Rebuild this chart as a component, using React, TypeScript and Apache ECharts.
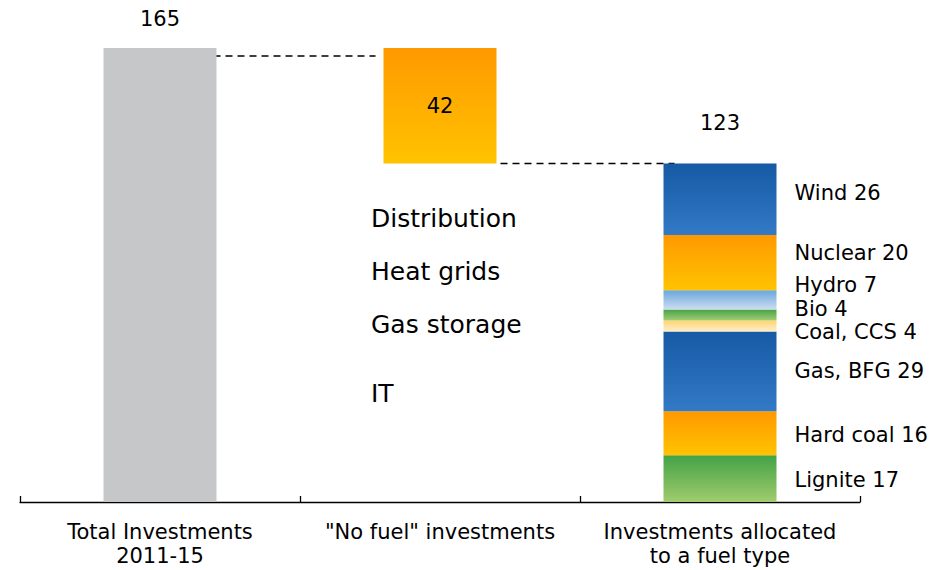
import React, { useEffect, useRef } from "react";
import * as echarts from "echarts";

const categories = ["Total Investments\n2011-15", '"No fuel" investments', "Investments allocated\nto a fuel type"];
const totalInvestments = 165;
const noFuelInvestments = 42;
const allocatedInvestments = 123;
const fuelNames = ["Lignite", "Hard coal", "Gas, BFG", "Coal, CCS", "Bio", "Hydro", "Nuclear", "Wind"];
const fuelValues = [17, 16, 29, 4, 4, 7, 20, 26];
const noFuelItems = ["Distribution", "Heat grids", "Gas storage", "IT"];

// styles (kept apart from data)
const FONT = "DejaVu Sans";
const fuelColors: [string, string][] = [
  ["#43A246", "#A0CC6E"],
  ["#FF9900", "#FFC300"],
  ["#165AA5", "#3379C5"],
  ["#FFD46E", "#FFEEC9"],
  ["#43A246", "#A3CD73"],
  ["#69A5DB", "#CCDDF1"],
  ["#FF9900", "#FFC300"],
  ["#165AA5", "#3379C5"],
];
const fuelLabelOffsets = [1, 2, 0, 6, -6, -15, -10, -6];
const noFuelTextY = [218, 271, 324, 393];

const grad = (a: string, b: string) =>
  new echarts.graphic.LinearGradient(0, 0, 0, 1, [
    { offset: 0, color: a },
    { offset: 1, color: b },
  ]);

export default function App() {
  const ref = useRef<HTMLDivElement>(null);
  useEffect(() => {
    document.body.style.margin = "0";
    if (!ref.current) return;
    const chart = echarts.init(ref.current, undefined, { renderer: "svg" });
    const BAR_W = 113;
    const series: any[] = [
      {
        name: "base",
        type: "bar",
        stack: "w",
        barWidth: BAR_W,
        silent: true,
        itemStyle: { color: "transparent" },
        data: ["-", allocatedInvestments, "-"],
      },
      {
        name: "Total",
        type: "bar",
        stack: "w",
        barWidth: BAR_W,
        itemStyle: { color: "#C6C7C9" },
        label: {
          show: true,
          position: "top",
          distance: 19,
          fontFamily: FONT,
          fontSize: 21,
          color: "#000",
        },
        data: [totalInvestments, "-", "-"],
      },
      {
        name: "No fuel",
        type: "bar",
        stack: "w",
        barWidth: BAR_W,
        itemStyle: { color: grad("#FF9900", "#FFC300") },
        label: {
          show: true,
          position: "inside",
          fontFamily: FONT,
          fontSize: 21,
          color: "#000",
        },
        data: ["-", noFuelInvestments, "-"],
      },
      ...fuelNames.map((name, i) => ({
        name,
        type: "bar",
        stack: "w",
        barWidth: BAR_W,
        itemStyle: { color: grad(fuelColors[i][0], fuelColors[i][1]) },
        label: {
          show: true,
          position: "right",
          distance: 18,
          offset: [0, fuelLabelOffsets[i]],
          fontFamily: FONT,
          fontSize: 21,
          lineHeight: 21,
          color: "#000",
          formatter: (p: any) => `${name} ${p.value}`,
        },
        data: ["-", "-", fuelValues[i]],
      })),
      {
        name: "Allocated total",
        type: "scatter",
        symbolSize: 0,
        silent: true,
        itemStyle: { opacity: 1, color: "#000" },
        label: {
          show: true,
          position: "top",
          distance: 30,
          fontFamily: FONT,
          fontSize: 21,
          color: "#000",
          opacity: 1,
        },
        data: ["-", "-", allocatedInvestments],
      },
    ];

    chart.setOption({
      animation: false,
      grid: { left: 20, right: 87, top: 48, bottom: 68, containLabel: false },
      xAxis: {
        type: "category",
        data: categories,
        boundaryGap: true,
        axisLine: { show: true, lineStyle: { color: "#000", width: 1.3 } },
        axisTick: { show: true, inside: true, length: 6, lineStyle: { color: "#000", width: 1.3 } },
        axisLabel: {
          margin: 18,
          fontFamily: FONT,
          fontSize: 21,
          lineHeight: 24,
          color: "#000",
          interval: 0,
        },
      },
      yAxis: {
        type: "value",
        min: 0,
        max: totalInvestments,
        show: false,
        splitLine: { show: false },
      },
      series,
    });

    const px = (i: number, v: number) => chart.convertToPixel({ gridIndex: 0 }, [i, v]) as number[];
    const a = px(0, totalInvestments);
    const b = px(1, totalInvestments);
    const c = px(1, allocatedInvestments);
    const d = px(2, allocatedInvestments);
    const dash = { stroke: "#000", lineWidth: 1.6, lineDash: [7, 5] };
    const graphics: any[] = [
      {
        type: "line",
        shape: { x1: a[0] + BAR_W / 2 - 3, y1: a[1] + 8, x2: b[0] - BAR_W / 2 - 8, y2: b[1] + 8 },
        style: dash,
        silent: true,
      },
      {
        type: "line",
        shape: { x1: c[0] + BAR_W / 2 + 4, y1: c[1], x2: d[0] - BAR_W / 2 + 11, y2: d[1] },
        style: dash,
        silent: true,
      },
      ...noFuelItems.map((t, i) => ({
        type: "text",
        x: 371,
        y: noFuelTextY[i],
        style: {
          text: t,
          fontFamily: FONT,
          fontSize: 25,
          fill: "#000",
          align: "left",
          verticalAlign: "middle",
        },
        silent: true,
      })),
    ];
    chart.setOption({ graphic: graphics });

    return () => chart.dispose();
  }, []);
  return <div ref={ref} style={{ width: 947, height: 570 }} />;
}
